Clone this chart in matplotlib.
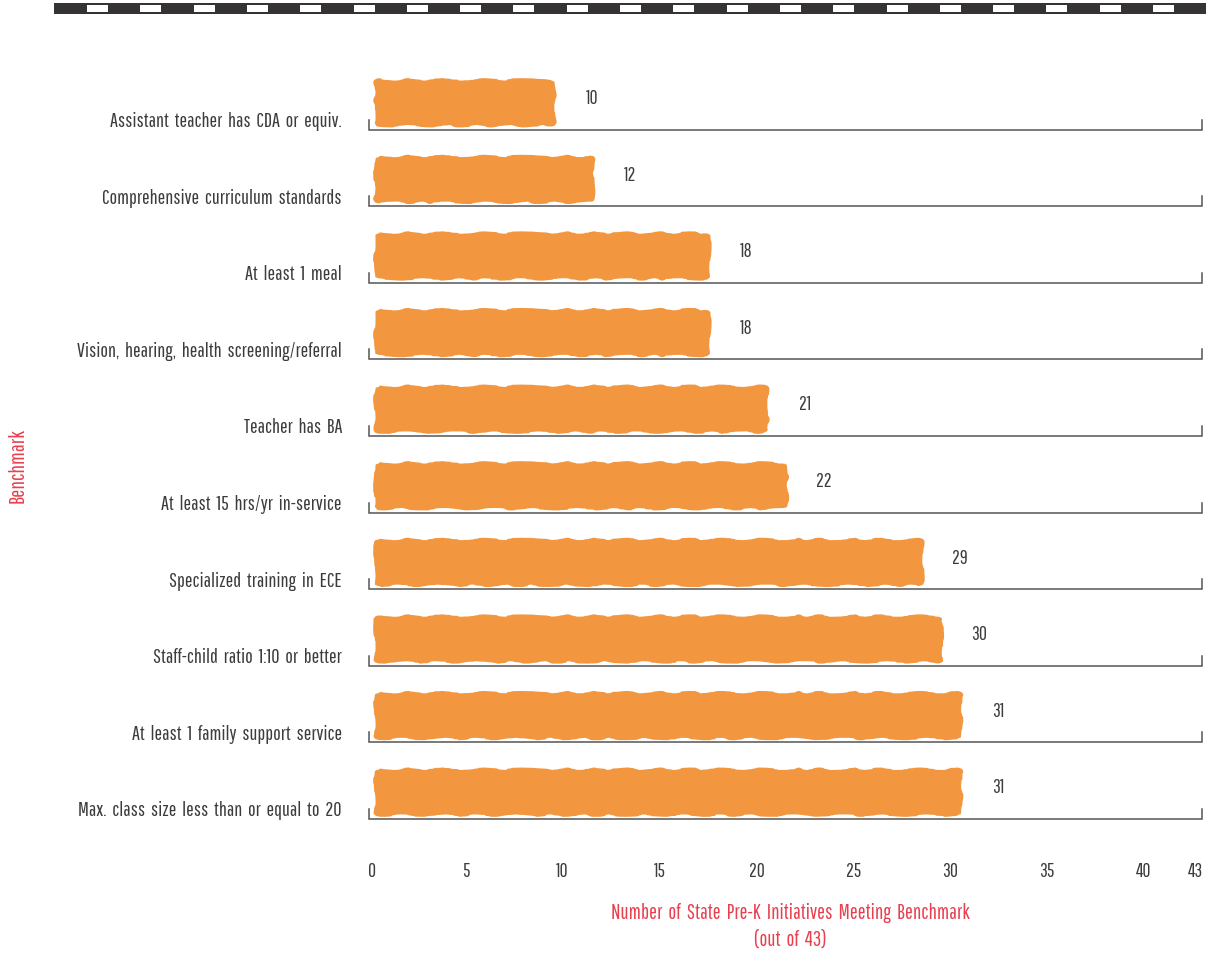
import matplotlib
matplotlib.use("Agg")
import matplotlib.pyplot as plt
from matplotlib.patches import FancyBboxPatch, Rectangle

plt.rcParams['font.family'] = ['Pathway Gothic One', 'Roboto Condensed', 'DejaVu Sans']

# data
benchmarks = [
    "Assistant teacher has CDA or equiv.",
    "Comprehensive curriculum standards",
    "At least 1 meal",
    "Vision, hearing, health screening/referral",
    "Teacher has BA",
    "At least 15 hrs/yr in-service",
    "Specialized training in ECE",
    "Staff-child ratio 1:10 or better",
    "At least 1 family support service",
    "Max. class size less than or equal to 20",
]
counts = [10, 12, 18, 18, 21, 22, 29, 30, 31, 31]
xticks = [0, 5, 10, 15, 20, 25, 30, 35, 40, 43]
total = 43

ORANGE = "#F2963F"
RED = "#E8404F"
TXT = "#3c3c3c"
LINE = "#555555"


def wide(s):
    # the original uses loose word spacing
    return s.replace(" ", "  ")


W, H = 1219, 954
fig = plt.figure(figsize=(W / 100, H / 100), dpi=100)

# axes placed in pixel terms
left, right = 369, 1202
top = 54
row = 76.6
nrows = 10.35
bottom = top + row * nrows
ax = fig.add_axes([left / W, 1 - bottom / H, (right - left) / W, (bottom - top) / H])
ax.set_xlim(0, total)
ax.set_ylim(nrows, 0)
ax.axis("off")

for i, (lab, v) in enumerate(zip(benchmarks, counts)):
    base = i + 1
    # bracket baseline
    ax.plot([0, 0, total, total], [base - 0.13, base, base, base - 0.13],
            color=LINE, lw=1.1, solid_joinstyle="miter", clip_on=False)
    # brush-like bar
    bar = FancyBboxPatch((0.35, base - 0.64), v - 0.8, 0.58,
                         boxstyle="round,pad=0.02,rounding_size=0.25",
                         mutation_aspect=1 / 8,
                         facecolor=ORANGE, edgecolor=ORANGE, lw=1.5)
    bar.set_sketch_params(scale=1.2, length=90, randomness=12)
    ax.add_patch(bar)
    ax.text(v + 1.5, base - 0.42, str(v), ha="center", va="center",
            fontsize=14, color=TXT)
    ax.text(-1.4, base - 0.12, wide(lab), ha="right", va="center",
            fontsize=14.5, color=TXT)

for t in xticks:
    ax.text(t + (0.15 if t == 0 else -0.35 if t == total else 0), 10.67, str(t),
            ha="center", va="center", fontsize=14, color=TXT)

fig.text(790 / W, 1 - 913 / H, wide("Number of State Pre-K Initiatives Meeting Benchmark"),
         ha="center", va="center", fontsize=15, color=RED)
fig.text(790 / W, 1 - 940 / H, wide("(out of 43)"),
         ha="center", va="center", fontsize=15, color=RED)
fig.text(18 / W, 1 - 466 / H, "Benchmark", rotation=90,
         ha="center", va="center", fontsize=15.5, color=RED)

# decorative stripe at top
fig.patches.append(Rectangle((54 / W, 1 - 15 / H), (1206 - 54) / W, 11 / H,
                             transform=fig.transFigure, facecolor="#353333",
                             edgecolor="none"))
for k in range(21):
    x0 = 87 + 53.3 * k
    fig.patches.append(Rectangle((x0 / W, 1 - 13 / H), 21 / W, 7 / H,
                                 transform=fig.transFigure, facecolor="white",
                                 edgecolor="none"))

fig.savefig("out.png", dpi=100)
